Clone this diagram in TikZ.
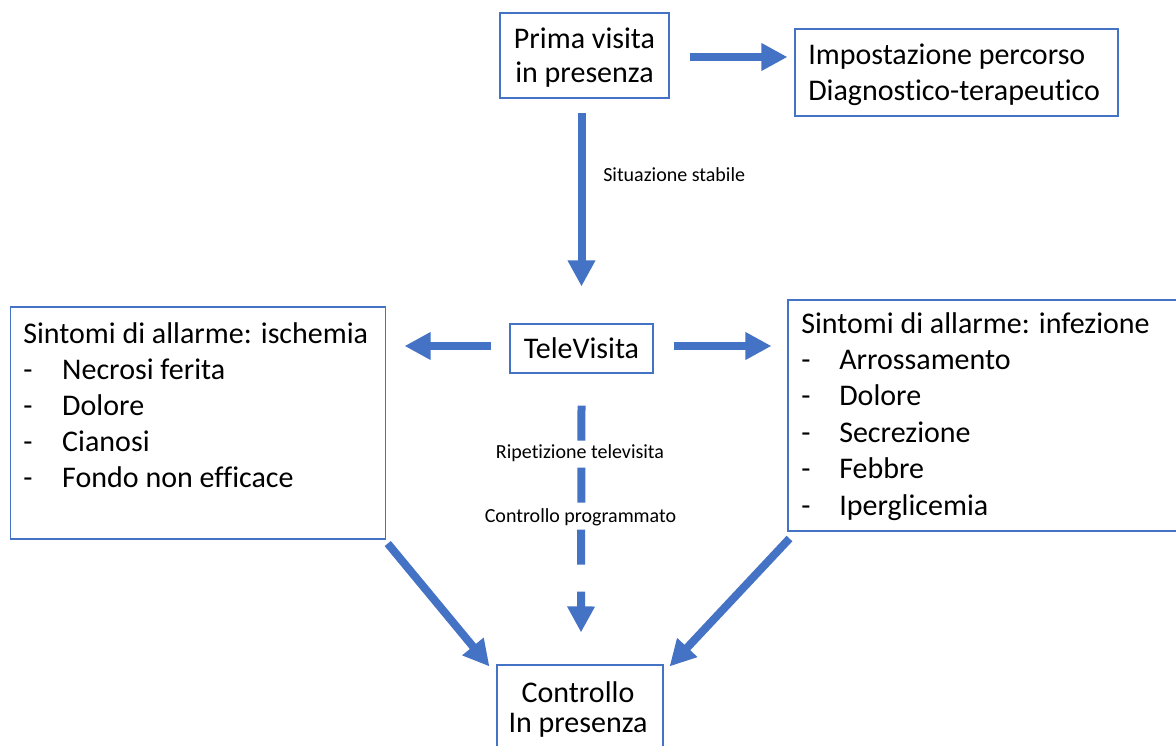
\documentclass[tikz,border=0pt]{standalone}
\usepackage{fontspec}
\setmainfont{Carlito}[Ligatures={NoCommon}]
\usetikzlibrary{arrows.meta,calc,fit}
\definecolor{accent}{HTML}{4472C4}
\begin{document}
\begin{tikzpicture}[x=0.75pt,y=-0.75pt,
  box/.style={draw=accent, line width=0.8pt, inner sep=0pt},
  big/.style={font=\fontsize{22.5pt}{#1}\selectfont, inner sep=0pt},
  big/.default=27pt,
  small/.style={font=\fontsize{15pt}{18pt}\selectfont, inner sep=0pt},
  arr/.style={draw=accent, line width=6pt, -{Triangle[length=19.5pt,width=19.5pt]}},
]
\useasboundingbox (0,0) rectangle (1176,745);
\clip (0,0) rectangle (1176,745);

% boxes
\node[box, fit={(500,13) (669,98)}] (prima) {};
\node[box, fit={(795,29) (1118,116)}] (impost) {};
\node[box, fit={(510,324) (653,373)}] (tele) {};
\node[box, fit={(10.7,307) (385.7,539)}] (isch) {};
\node[box, fit={(788,300) (1190,531)}] (inf) {};
\node[box, fit={(497,665) (663,780)}] (ctrl) {};

% box texts
\node[big=25.5pt, anchor=base] (primaT) at (584.5,49)
  {\begin{tabular}[t]{@{}c@{}}Prima visita\\in presenza\end{tabular}};
\node[big=27pt, anchor=base west] (impostT) at (808,65)
  {\begin{tabular}[t]{@{}l@{}}Impostazione percorso\\Diagnostico-terapeutico\end{tabular}};
\node[big, anchor=base] (teleT) at (581.5,358) {TeleVisita};
\node[big=27pt, anchor=base west] (ischT) at (23,343)
  {\begin{tabular}[t]{@{}l@{}}Sintomi di allarme: ischemia\\
   \makebox[29.25pt][l]{-}Necrosi ferita\\
   \makebox[29.25pt][l]{-}Dolore\\
   \makebox[29.25pt][l]{-}Cianosi\\
   \makebox[29.25pt][l]{-}Fondo non efficace\end{tabular}};
\node[big=27.3pt, anchor=base west] (infT) at (801,333)
  {\begin{tabular}[t]{@{}l@{}}Sintomi di allarme: infezione\\
   \makebox[28.5pt][l]{-}Arrossamento\\
   \makebox[28.5pt][l]{-}Dolore\\
   \makebox[28.5pt][l]{-}Secrezione\\
   \makebox[28.5pt][l]{-}Febbre\\
   \makebox[28.5pt][l]{-}Iperglicemia\end{tabular}};
\node[big=22.5pt, anchor=base] (ctrlT) at (578,702)
  {\begin{tabular}[t]{@{}c@{}}Controllo\\In presenza\end{tabular}};

% connectors
\draw[arr] ($(prima.east)+(20,1.5)$) -- ($(impost.west)+(-7,-15.5)$);
\draw[arr] ($(prima.south)+(-3,14)$) -- ($(tele.north)+(0,-37)$);
\draw[arr] ($(tele.west)+(-18,-2.5)$) -- ($(isch.east)+(18.3,-77)$);
\draw[arr] ($(tele.east)+(20,-2.5)$) -- ($(inf.west)+(-16,-69.5)$);
\draw[arr, dash pattern=on 26.25pt off 20.25pt] ($(tele.south)+(0,32)$) -- ($(ctrl.north)+(1,-32)$);
\draw[arr] ($(isch.south east)+(1.5,4)$) -- ($(ctrl.north west)+(-7,2)$);
\draw[arr] ($(inf.south west)+(2,7)$) -- ($(ctrl.north east)+(6,2)$);

% connector labels
\node[small, anchor=base west] (lab1) at (603,182) {Situazione stabile};
\node[small, anchor=base, fill=white] (lab2) at (580,458) {Ripetizione televisita};
\node[small, anchor=base, fill=white] (lab3) at (580.5,522) {Controllo programmato};
\end{tikzpicture}
\end{document}
